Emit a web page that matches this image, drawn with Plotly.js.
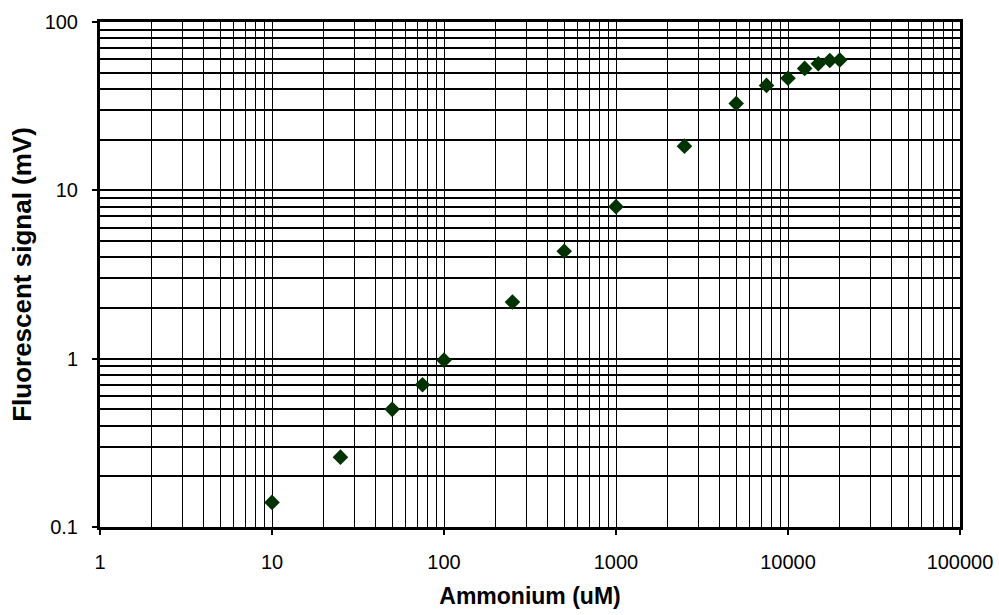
<!DOCTYPE html>
<html>
<head>
<meta charset="utf-8">
<script src="https://cdn.plot.ly/plotly-3.0.1.min.js"></script>
<style>html,body{margin:0;padding:0;background:#fff;}#chart{width:999px;height:615px;}</style>
</head>
<body>
<div id="chart"></div>
<script>
const ammonium = [10, 25, 50, 75, 100, 250, 500, 1000, 2500, 5000, 7500, 10000, 12500, 15000, 17500, 20000];
const signal = [0.14, 0.26, 0.50, 0.70, 0.98, 2.17, 4.35, 8.0, 18.3, 32.8, 42.0, 46.3, 53.0, 56.5, 59.0, 59.5];
const xTickVals = [1, 10, 100, 1000, 10000, 100000];
const xTickText = ['1', '10', '100', '1000', '10000', '100000'];
const yTickVals = [0.1, 1, 10, 100];
const yTickText = ['0.1', '1', '10', '100'];

const fontFam = 'Liberation Sans, Arial, sans-serif';

Plotly.newPlot('chart', [{
  x: ammonium,
  y: signal,
  type: 'scatter',
  mode: 'markers',
  marker: {symbol: 'diamond', size: 12, color: '#003300', line: {width: 0}},
  showlegend: false
}], {
  width: 999,
  height: 615,
  margin: {l: 100, r: 39, t: 22, b: 88},
  paper_bgcolor: '#ffffff',
  plot_bgcolor: '#ffffff',
  font: {family: fontFam, color: '#000000'},
  xaxis: {
    type: 'log',
    range: [0, 5],
    tickmode: 'array',
    tickvals: xTickVals,
    ticktext: xTickText,
    tickfont: {size: 20, family: fontFam},
    ticks: 'outside',
    ticklen: 5,
    tickwidth: 2,
    tickcolor: '#000',
    ticklabelstandoff: 10,
    showline: true,
    linewidth: 3,
    linecolor: '#000',
    mirror: true,
    showgrid: true,
    gridcolor: '#000',
    gridwidth: 1,
    zeroline: false,
    minor: {dtick: 'D1', showgrid: true, gridcolor: '#000', gridwidth: 1, ticks: ''},
    title: {text: '<b>Ammonium (uM)</b>', font: {size: 23, family: fontFam}, standoff: 16}
  },
  yaxis: {
    type: 'log',
    range: [-1, 2],
    tickmode: 'array',
    tickvals: yTickVals,
    ticktext: yTickText,
    tickfont: {size: 20, family: fontFam},
    ticks: 'outside',
    ticklen: 5,
    tickwidth: 2,
    tickcolor: '#000',
    ticklabelstandoff: 10,
    showline: true,
    linewidth: 3,
    linecolor: '#000',
    mirror: true,
    showgrid: true,
    gridcolor: '#000',
    gridwidth: 2,
    zeroline: false,
    minor: {dtick: 'D1', showgrid: true, gridcolor: '#000', gridwidth: 2, ticks: ''},
    title: {text: '<b>Fluorescent signal (mV)</b>', font: {size: 26, family: fontFam}, standoff: 6}
  }
}, {displayModeBar: false, staticPlot: true});
</script>
</body>
</html>
